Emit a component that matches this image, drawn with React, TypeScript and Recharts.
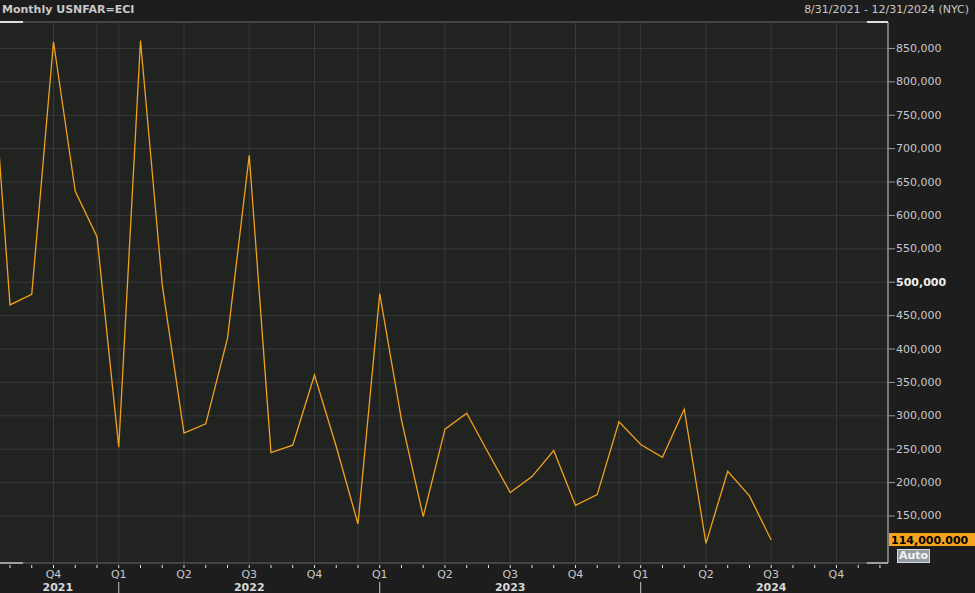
import React from "react";
import {
  LineChart,
  Line,
  XAxis,
  YAxis,
  CartesianGrid,
  ReferenceLine,
  ReferenceDot,
} from "recharts";

// monthly values, Jul 2021 .. Jul 2024 (first one sits just off the left edge)
const MONTHS = [
  "Jul 2021", "Aug 2021", "Sep 2021", "Oct 2021", "Nov 2021", "Dec 2021",
  "Jan 2022", "Feb 2022", "Mar 2022", "Apr 2022", "May 2022", "Jun 2022",
  "Jul 2022", "Aug 2022", "Sep 2022", "Oct 2022", "Nov 2022", "Dec 2022",
  "Jan 2023", "Feb 2023", "Mar 2023", "Apr 2023", "May 2023", "Jun 2023",
  "Jul 2023", "Aug 2023", "Sep 2023", "Oct 2023", "Nov 2023", "Dec 2023",
  "Jan 2024", "Feb 2024", "Mar 2024", "Apr 2024", "May 2024", "Jun 2024",
  "Jul 2024",
];
const VALUES = [
  920000, 466000, 482000, 860000, 636000, 568000,
  253000, 862000, 496000, 274000, 288000, 416000,
  690000, 245000, 256000, 361000, 254000, 138000,
  483000, 294000, 149000, 280000, 304000, 244000,
  185000, 209000, 248000, 166000, 182000, 291000,
  257000, 238000, 310000, 109000, 217000, 180000,
  114000,
];

// x positions are month offsets from Aug 2021
const MONTH_TICKS = Array.from({ length: 41 }, (_, i) => i);
const QUARTER_TICKS = [2, 5, 8, 11, 14, 17, 20, 23, 26, 29, 32, 35, 38];
const QUARTER_LABELS = ["Q4", "Q1", "Q2", "Q3", "Q4", "Q1", "Q2", "Q3", "Q4", "Q1", "Q2", "Q3", "Q4"];
const YEAR_POS = [2.2, 11, 23, 35];
const YEAR_LABELS = ["2021", "2022", "2023", "2024"];
const YEAR_BREAKS = [5, 17, 29];
const V_GRID = [2, 4, 5, 8, 11, 14, 16, 17, 20, 23, 26, 28, 29, 32, 35, 38];
const Y_TICKS = [150000, 200000, 250000, 300000, 350000, 400000, 450000, 500000, 550000, 600000, 650000, 700000, 750000, 800000, 850000];

const X_MIN = -0.46;
const X_MAX = 40.37;
const Y_MIN = 79600;
const Y_MAX = 889600;

const data = MONTHS.map((m, i) => ({ t: i - 1, month: m, value: VALUES[i] }));
const last = data[data.length - 1];

const FONT = "'DejaVu Sans', Verdana, sans-serif";
const TXT = "#c8c8c8";

const fmt = (v: number) => v.toLocaleString("en-US");

function YTick(props: any) {
  const { x, y, payload } = props;
  const bold = payload.value === 500000;
  return (
    <g>
      <line x1={x} y1={y} x2={x + 7} y2={y} stroke="#9a9a9a" />
      <text
        x={x + 8}
        y={y}
        dominantBaseline="central"
        fontFamily={FONT}
        fontSize={11}
        fontWeight={bold ? "bold" : "normal"}
        fill={bold ? "#f0f0f0" : TXT}
      >
        {fmt(payload.value)}
      </text>
    </g>
  );
}

function QuarterTick(props: any) {
  const { x, y, payload } = props;
  const qi = QUARTER_TICKS.indexOf(payload.value);
  return (
    <g>
      <line x1={x} y1={y + 2} x2={x} y2={y + 5} stroke="#e6e6e6" />
      {qi >= 0 && (
        <text x={x} y={y + 15} textAnchor="middle" fontFamily={FONT} fontSize={11} fill={TXT}>
          {QUARTER_LABELS[qi]}
        </text>
      )}
    </g>
  );
}

function YearTick(props: any) {
  const { x, y, payload } = props;
  const yi = YEAR_POS.indexOf(payload.value);
  if (yi < 0) {
    return <line x1={x} y1={y + 3} x2={x} y2={y + 14} stroke={TXT} />;
  }
  return (
    <text x={x} y={y + 12} textAnchor="middle" fontFamily={FONT} fontSize={11} fontWeight="bold" fill="#d8d8d8">
      {YEAR_LABELS[yi]}
    </text>
  );
}

function LastLabel(props: any) {
  const { cx, cy } = props;
  return (
    <g>
      <rect x={cx + 1} y={cy - 7} width={87} height={13} fill="#f5a31a" />
      <text
        x={cx + 3}
        y={cy}
        dominantBaseline="central"
        fontFamily={FONT}
        fontSize={11}
        fontWeight="bold"
        fill="#000"
      >
        {fmt(last.value)}.000
      </text>
    </g>
  );
}

export default function App() {
  return (
    <div
      style={{
        position: "absolute",
        left: 0,
        top: 0,
        width: 975,
        height: 593,
        background: "#1d1d1e",
        overflow: "hidden",
      }}
    >
      <div
        style={{
          position: "absolute",
          left: 2,
          top: 3,
          fontFamily: FONT,
          fontSize: 11,
          fontWeight: "bold",
          color: TXT,
        }}
      >
        Monthly USNFAR=ECI
      </div>
      <div
        style={{
          position: "absolute",
          right: 6,
          top: 3,
          fontFamily: FONT,
          fontSize: 11,
          color: TXT,
        }}
      >
        8/31/2021 - 12/31/2024 (NYC)
      </div>
      <div
        style={{
          position: "absolute",
          left: 897,
          top: 549,
          width: 31,
          height: 12,
          background: "#959ba4",
          border: "1px solid #d8dce2",
          fontFamily: FONT,
          fontSize: 11,
          fontWeight: "bold",
          lineHeight: "12px",
          color: "#f4f4f4",
          textAlign: "center",
        }}
      >
        Auto
      </div>
      <LineChart
        width={975}
        height={593}
        data={data}
        margin={{ top: 22, right: 0, bottom: 0, left: 0 }}
      >
        <CartesianGrid vertical={false} stroke="#38393a" fill="#212320" />
        {V_GRID.map((v) => (
          <ReferenceLine key={v} x={v} stroke="#38393a" />
        ))}
        <XAxis
          dataKey="t"
          type="number"
          domain={[X_MIN, X_MAX]}
          allowDataOverflow
          ticks={MONTH_TICKS}
          interval={0}
          height={16}
          tickLine={false}
          tickSize={0}
          tickMargin={0}
          axisLine={{ stroke: "#5c5c5c" }}
          tick={<QuarterTick />}
        />
        <XAxis
          xAxisId="yr"
          dataKey="t"
          type="number"
          domain={[X_MIN, X_MAX]}
          allowDataOverflow
          ticks={[...YEAR_POS, ...YEAR_BREAKS]}
          interval={0}
          height={14}
          tickLine={false}
          tickSize={0}
          tickMargin={0}
          axisLine={false}
          tick={<YearTick />}
        />
        <YAxis
          orientation="right"
          width={87}
          domain={[Y_MIN, Y_MAX]}
          allowDataOverflow
          ticks={Y_TICKS}
          interval={0}
          tickLine={false}
          tickSize={0}
          tickMargin={0}
          axisLine={{ stroke: "#d0d0d0" }}
          tick={<YTick />}
        />
        <ReferenceLine y={Y_MAX} stroke="#5c5c5c" />
        <ReferenceLine
          segment={[{ x: X_MIN, y: Y_MAX }, { x: 0.6, y: Y_MAX }]}
          stroke="#e0e0e0"
          strokeWidth={2}
        />
        <ReferenceLine
          segment={[{ x: 39.4, y: Y_MAX }, { x: X_MAX, y: Y_MAX }]}
          stroke="#e0e0e0"
          strokeWidth={2}
        />
        <ReferenceLine
          segment={[{ x: X_MIN, y: Y_MIN }, { x: 0.6, y: Y_MIN }]}
          stroke="#e0e0e0"
          strokeWidth={2}
        />
        <ReferenceLine
          segment={[{ x: 39.4, y: Y_MIN }, { x: X_MAX, y: Y_MIN }]}
          stroke="#e0e0e0"
          strokeWidth={2}
        />
        <Line
          type="linear"
          dataKey="value"
          stroke="#f2a11f"
          strokeWidth={1.3}
          dot={false}
          activeDot={false}
          isAnimationActive={false}
        />
        <ReferenceDot x={X_MAX} y={last.value} r={0} shape={<LastLabel />} />
      </LineChart>
    </div>
  );
}
